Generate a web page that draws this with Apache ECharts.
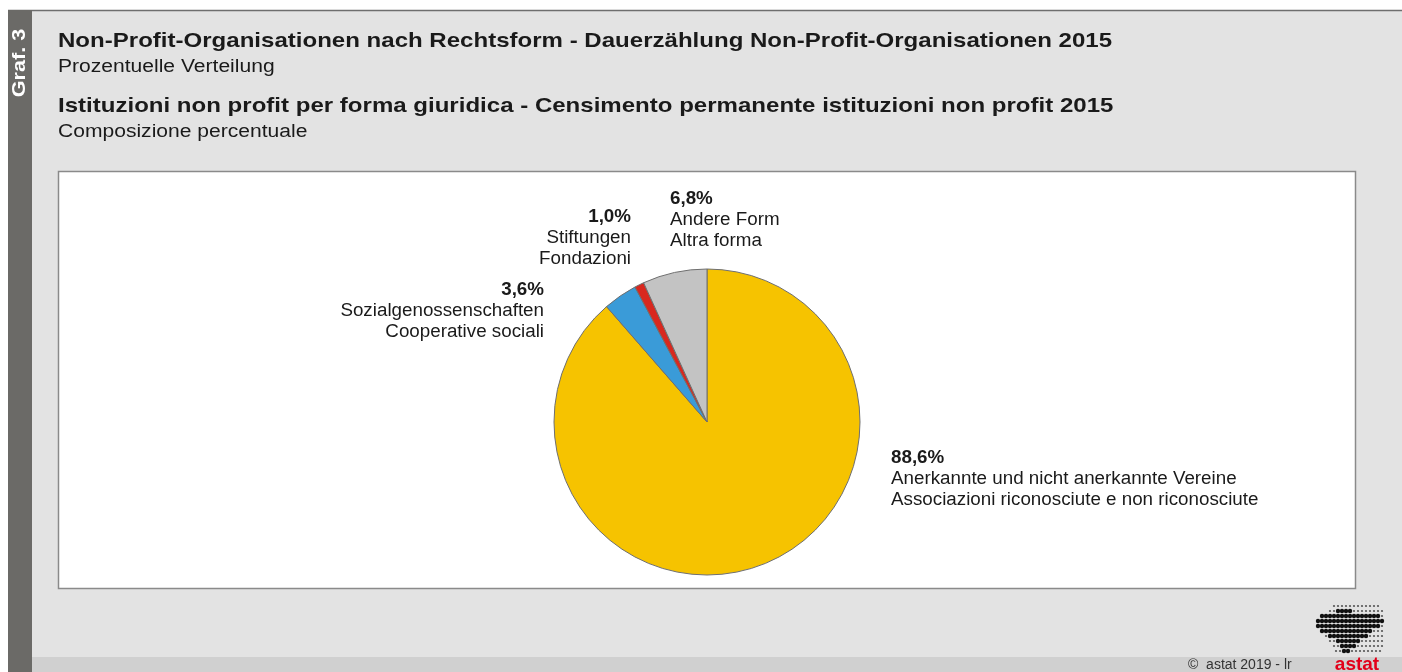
<!DOCTYPE html>
<html>
<head>
<meta charset="utf-8">
<script src="https://cdn.jsdelivr.net/npm/echarts@6/dist/echarts.min.js"></script>
<style>
  html, body { margin: 0; padding: 0; background: #fff; }
  #chart { width: 1402px; height: 672px; }
</style>
</head>
<body>
<div id="chart"></div>
<script>
// Daten
var percentages = [88.6, 3.6, 1.0, 6.8];
var namesDe = ['Anerkannte und nicht anerkannte Vereine', 'Sozialgenossenschaften', 'Stiftungen', 'Andere Form'];
var namesIt = ['Associazioni riconosciute e non riconosciute', 'Cooperative sociali', 'Fondazioni', 'Altra forma'];
var sliceColors = ['#f6c300', '#3a9bd8', '#d8281f', '#c3c3c3'];

// Position der Beschriftungen (x, y oben, Ausrichtung)
var labelPos = [
  { x: 891, y: 447, align: 'left' },
  { x: 544, y: 279, align: 'right' },
  { x: 631, y: 206, align: 'right' },
  { x: 670, y: 188, align: 'left' }
];

var FONT = '"Liberation Sans", Arial, sans-serif';

function fmt(v) {
  return v.toFixed(1).replace('.', ',') + '%';
}

var chart = echarts.init(document.getElementById('chart'));

// Hintergrund, Rahmen und Titel
var graphics = [
  { type: 'rect', z: -10, shape: { x: 0, y: 0, width: 1402, height: 672 }, style: { fill: '#ffffff' } },
  { type: 'rect', z: -9, shape: { x: 8, y: 10, width: 1394, height: 662 }, style: { fill: '#e3e3e3' } },
  { type: 'rect', z: -8, shape: { x: 32, y: 657, width: 1370, height: 15 }, style: { fill: '#d0d0d0' } },
  { type: 'line', z: -8, shape: { x1: 8, y1: 10.5, x2: 1402, y2: 10.5 }, style: { stroke: '#6e6e6e', lineWidth: 1.5 } },
  { type: 'rect', z: -7, shape: { x: 8, y: 10, width: 24, height: 662 }, style: { fill: '#6b6a67' } },
  { type: 'rect', z: -6, shape: { x: 58.5, y: 171.5, width: 1297, height: 417 }, style: { fill: '#ffffff', stroke: '#8a8a8a', lineWidth: 1.5 } },
  { type: 'text', x: 20, y: 63, rotation: Math.PI / 2, scaleX: 1.2,
    style: { text: 'Graf. 3', fill: '#ffffff', font: 'bold 18px ' + FONT, align: 'center', verticalAlign: 'middle' } },
  { type: 'text', x: 58, y: 41, scaleX: 1.145,
    style: { text: 'Non-Profit-Organisationen nach Rechtsform - Dauerzählung Non-Profit-Organisationen 2015', fill: '#1a1a1a', font: 'bold 21px ' + FONT, verticalAlign: 'middle' } },
  { type: 'text', x: 58, y: 67, scaleX: 1.17,
    style: { text: 'Prozentuelle Verteilung', fill: '#1a1a1a', font: '18px ' + FONT, verticalAlign: 'middle' } },
  { type: 'text', x: 58, y: 106, scaleX: 1.145,
    style: { text: 'Istituzioni non profit per forma giuridica - Censimento permanente istituzioni non profit 2015', fill: '#1a1a1a', font: 'bold 21px ' + FONT, verticalAlign: 'middle' } },
  { type: 'text', x: 58, y: 132, scaleX: 1.17,
    style: { text: 'Composizione percentuale', fill: '#1a1a1a', font: '18px ' + FONT, verticalAlign: 'middle' } },
  { type: 'text', x: 1188, y: 665,
    style: { text: '©  astat 2019 - lr', fill: '#333333', font: '14px ' + FONT, verticalAlign: 'middle' } },
  { type: 'text', x: 1357, y: 665,
    style: { text: 'astat', fill: '#e2001a', font: 'bold 19px ' + FONT, align: 'center', verticalAlign: 'middle' } }
];

// Logo: grobe Punktmatrix
var logoRows = [
  [606, 1334, 1380, 0, 0], [611, 1330, 1382, 1338, 1352], [616, 1322, 1384, 1320, 1378],
  [621, 1318, 1384, 1316, 1382], [626, 1318, 1382, 1318, 1378], [631, 1322, 1382, 1322, 1372],
  [636, 1326, 1382, 1330, 1366], [641, 1330, 1382, 1336, 1360], [646, 1334, 1382, 1340, 1354],
  [651, 1336, 1382, 1342, 1350]
];
logoRows.forEach(function (r) {
  for (var x = r[1]; x <= r[2]; x += 4) {
    var dark = x >= r[3] && x <= r[4];
    graphics.push({ type: 'circle', shape: { cx: x, cy: r[0], r: dark ? 2.2 : 1.1 }, style: { fill: dark ? '#111' : '#555' } });
  }
});

chart.setOption({
  animation: false,
  graphic: graphics,
  series: [{
    type: 'pie',
    center: [707, 422],
    radius: 153,
    startAngle: 90,
    clockwise: true,
    silent: true,
    itemStyle: { borderColor: '#6f6f6f', borderWidth: 1 },
    labelLine: { show: false },
    label: {
      show: true,
      position: 'outside',
      formatter: function (p) {
        return '{b|' + fmt(p.value) + '}\n{n|' + namesDe[p.dataIndex] + '}\n{n|' + namesIt[p.dataIndex] + '}';
      },
      rich: {
        b: { fontFamily: FONT, fontWeight: 'bold', fontSize: 18.8, lineHeight: 21, color: '#1a1a1a' },
        n: { fontFamily: FONT, fontSize: 18.8, lineHeight: 21, color: '#1a1a1a' }
      }
    },
    labelLayout: function (params) {
      var p = labelPos[params.dataIndex];
      return { x: p.x, y: p.y, align: p.align, verticalAlign: 'top' };
    },
    data: percentages.map(function (v, i) {
      return {
        value: v,
        name: namesDe[i],
        itemStyle: { color: sliceColors[i] },
        label: { align: labelPos[i].align }
      };
    })
  }]
});
</script>
</body>
</html>
